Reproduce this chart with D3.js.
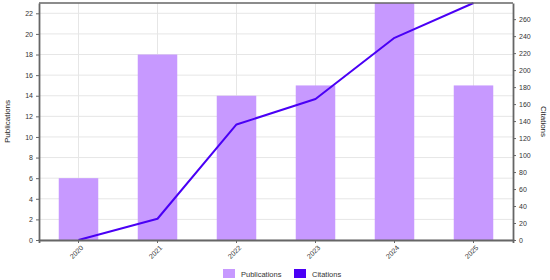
<!DOCTYPE html>
<html>
<head>
<meta charset="utf-8">
<style>
  body { margin: 0; background: #fff; }
  svg { font-family: "Liberation Sans", Arial, sans-serif; }
</style>
</head>
<body>
<script src="https://d3js.org/d3.v7.min.js"></script>
<script>
  var years = ['2020', '2021', '2022', '2023', '2024', '2025']
  var publications = [6, 18, 14, 15, 23, 15]
  var citations = [0, 25, 136, 166, 238, 279]
  var pubTicks = [0, 2, 4, 6, 8, 10, 12, 14, 16, 18, 20, 22]
  var citeTicks = [0, 20, 40, 60, 80, 100, 120, 140, 160, 180, 200, 220, 240, 260]

  var width = 550, height = 280
  var margin = {left: 39, right: 37, top: 3, bottom: 40}
  var barColor = '#c799ff', lineColor = '#4a00f5'

  var svg = d3.select('body').append('svg')
    .attr('width', width)
    .attr('height', height)

  var x = d3.scaleBand()
    .domain(years)
    .range([margin.left, width - margin.right])
    .paddingInner(0.5)
    .paddingOuter(0.25)
  var yL = d3.scaleLinear()
    .domain([0, d3.max(publications)])
    .range([height - margin.bottom, margin.top])
  var yR = d3.scaleLinear()
    .domain([0, d3.max(citations)])
    .range([height - margin.bottom, margin.top])

  // grid
  var grid = svg.append('g').attr('stroke', '#e6e6e6').attr('stroke-width', 1)
  grid.selectAll('.h').data(pubTicks).enter().append('line')
    .attr('x1', margin.left).attr('x2', width - margin.right)
    .attr('y1', function(d){ return yL(d) }).attr('y2', function(d){ return yL(d) })
  grid.selectAll('.v').data(years).enter().append('line')
    .attr('x1', function(d){ return x(d) + x.bandwidth()/2 })
    .attr('x2', function(d){ return x(d) + x.bandwidth()/2 })
    .attr('y1', margin.top).attr('y2', height - margin.bottom)

  // bars
  svg.selectAll('rect.bar').data(publications).enter().append('rect')
    .attr('class', 'bar')
    .attr('fill', barColor)
    .attr('x', function(d, i){ return x(years[i]) })
    .attr('width', x.bandwidth())
    .attr('y', function(d){ return yL(d) })
    .attr('height', function(d){ return yL(0) - yL(d) })

  // line
  var line = d3.line()
    .x(function(d, i){ return x(years[i]) + x.bandwidth()/2 })
    .y(function(d){ return yR(d) })
  svg.append('path')
    .datum(citations)
    .attr('fill', 'none')
    .attr('stroke', lineColor)
    .attr('stroke-width', 2)
    .attr('stroke-linejoin', 'round')
    .attr('d', line)

  // top border
  svg.append('line')
    .attr('x1', margin.left).attr('x2', width - margin.right)
    .attr('y1', margin.top).attr('y2', margin.top)
    .attr('stroke', '#666').attr('stroke-width', 1.5)

  function styleAxis(g) {
    g.selectAll('.domain').attr('stroke', '#666').attr('stroke-width', 1.8)
    g.selectAll('.tick line').attr('stroke', '#666')
    g.selectAll('.tick text').attr('fill', '#333').attr('font-size', 7)
  }

  var xAxis = svg.append('g')
    .attr('transform', 'translate(0,' + (height - margin.bottom) + ')')
    .call(d3.axisBottom(x).tickSizeOuter(0).tickSize(3))
  styleAxis(xAxis)
  xAxis.selectAll('.tick text')
    .attr('text-anchor', 'end')
    .attr('dx', '-0.3em')
    .attr('dy', '0.5em')
    .attr('transform', 'rotate(-45)')

  var leftAxis = svg.append('g')
    .attr('transform', 'translate(' + margin.left + ',0)')
    .call(d3.axisLeft(yL).tickValues(pubTicks).tickSize(3).tickSizeOuter(0))
  styleAxis(leftAxis)

  var rightAxis = svg.append('g')
    .attr('transform', 'translate(' + (width - margin.right) + ',0)')
    .call(d3.axisRight(yR).tickValues(citeTicks).tickSize(3).tickSizeOuter(0))
  styleAxis(rightAxis)

  // axis titles
  svg.append('text')
    .attr('transform', 'translate(10,' + ((margin.top + height - margin.bottom)/2) + ') rotate(-90)')
    .attr('text-anchor', 'middle')
    .attr('font-size', 8)
    .attr('fill', '#222')
    .text('Publications')
  svg.append('text')
    .attr('transform', 'translate(541,' + ((margin.top + height - margin.bottom)/2) + ') rotate(90)')
    .attr('text-anchor', 'middle')
    .attr('font-size', 8)
    .attr('fill', '#222')
    .text('Citations')

  // legend
  var legend = [
    {name: 'Publications', color: barColor, x: 223},
    {name: 'Citations', color: lineColor, x: 294}
  ]
  var lg = svg.selectAll('g.legend').data(legend).enter().append('g')
    .attr('transform', function(d){ return 'translate(' + d.x + ',269)' })
  lg.append('rect').attr('width', 12).attr('height', 9).attr('fill', function(d){ return d.color })
  lg.append('text')
    .attr('x', 18).attr('y', 7.5)
    .attr('font-size', 7.5)
    .attr('fill', '#333')
    .text(function(d){ return d.name })
</script>
</body>
</html>
